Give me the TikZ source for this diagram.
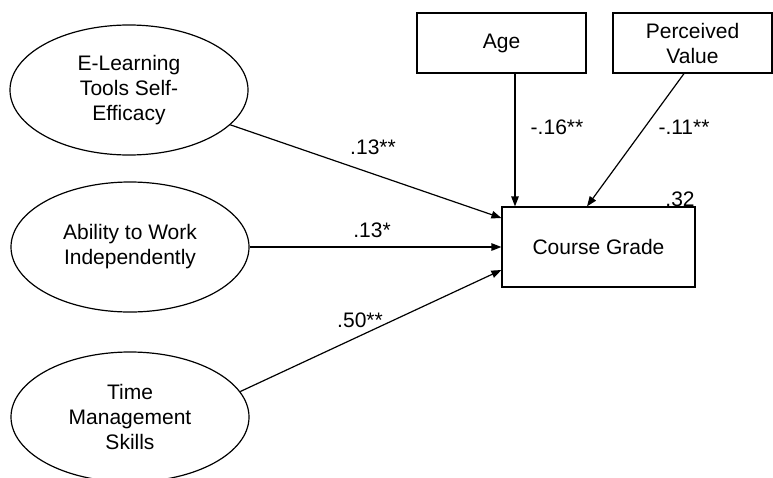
\documentclass[tikz,border=0pt]{standalone}
\usepackage{fontspec}
\setmainfont{Liberation Sans}
\usetikzlibrary{shapes.geometric,arrows.meta}
\begin{document}
\begin{tikzpicture}[x=1pt,y=-1pt,
  lat/.style={ellipse,draw,line width=1.2pt,minimum width=238pt,minimum height=130pt,inner sep=0pt,align=center,font=\fontsize{21}{25}\selectfont},
  obs/.style={rectangle,draw,line width=1.2pt,inner sep=0pt,align=center,font=\fontsize{21}{25}\selectfont},
  arr/.style={line width=1.2pt,-{Triangle[length=10pt,width=7.5pt]}},
  coef/.style={font=\fontsize{21}{25}\selectfont,inner sep=0pt}]
\useasboundingbox (0,0) rectangle (773,477);
\node[lat] (e1) at (129,90) {E-Learning\\Tools Self-\\Efficacy};
\node[lat] (e2) at (130,247) {Ability to Work\\Independently};
\node[lat] (e3) at (130,417) {Time\\Management\\Skills};
\node[obs,minimum width=169pt,minimum height=60pt] (age) at (501.5,43) {Age};
\node[obs,minimum width=159pt,minimum height=60pt] (pv) at (692.5,43) {Perceived\\Value};
\node[obs,minimum width=193pt,minimum height=80pt] (cg) at (598.5,247) {Course Grade};
\draw[arr] (e1) -- ([yshift=29pt]cg.west);
\draw[arr] (e2) -- (cg.west);
\draw[arr] (e3.13) -- ([yshift=-23pt]cg.west);
\draw[arr] ([xshift=13.5pt]age.south) -- ([xshift=13.5pt]age.south |- cg.north);
\draw[arr] ([xshift=-8.5pt]pv.south) -- ([xshift=-11.5pt]cg.north);
\node[coef] (l1) at (373,147) {.13**};
\node[coef] (l2) at (372,230) {.13*};
\node[coef] (l3) at (360,320) {.50**};
\node[coef] (l4) at (557,127) {-.16**};
\node[coef] (l5) at (684,127) {-.11**};
\node[coef] (l6) at (680,199) {.32};
\end{tikzpicture}
\end{document}
